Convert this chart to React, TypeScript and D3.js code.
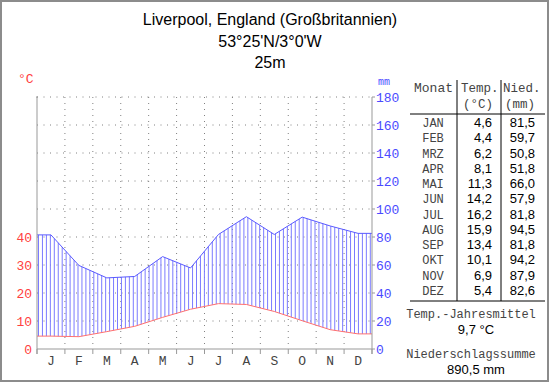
import { useMemo } from "react";
import * as d3 from "d3";

const months = ["J", "F", "M", "A", "M", "J", "J", "A", "S", "O", "N", "D"];
const monthNames = ["JAN", "FEB", "MRZ", "APR", "MAI", "JUN", "JUL", "AUG", "SEP", "OKT", "NOV", "DEZ"];
const temps = [4.6, 4.4, 6.2, 8.1, 11.3, 14.2, 16.2, 15.9, 13.4, 10.1, 6.9, 5.4];
const precip = [81.5, 59.7, 50.8, 51.8, 66.0, 57.9, 81.8, 94.5, 81.8, 94.2, 87.9, 82.6];
const tempTicks = [0, 10, 20, 30, 40];
const precipTicks = [0, 20, 40, 60, 80, 100, 120, 140, 160, 180];
const titleLines = ["Liverpool, England (Großbritannien)", "53°25'N/3°0'W", "25m"];
const meanTemp = "9,7 °C";
const totalPrecip = "890,5 mm";

const MONO = "'Liberation Mono', 'DejaVu Sans Mono', monospace";
const SANS = "'Liberation Sans', Arial, sans-serif";
const RED = "#ff4040";
const BLUE = "#4a4aff";
const GRID = "#808080";
const INK = "#444";

const fmt = (v: number) => d3.format(".1f")(v).replace(".", ",");

export default function App() {
  const x = d3.scaleLinear().domain([0, 12]).range([37, 372]);
  const yP = d3.scaleLinear().domain([0, 180]).range([349, 97]);
  const yT = d3.scaleLinear().domain([0, 90]).range([349, 97]);

  // points at month centres, held flat out to the plot edges
  const posT = useMemo(() => [0, ...temps.map((_, i) => i + 0.5), 12], []);
  const tExt = [temps[0], ...temps, temps[11]];
  const pExt = [precip[0], ...precip, precip[11]];

  const tLine = d3.line<number>().x((_, i) => x(posT[i])).y((d) => yT(d))(tExt) ?? "";
  const pLine = d3.line<number>().x((_, i) => x(posT[i])).y((d) => yP(d))(pExt) ?? "";

  const tInterp = d3.scaleLinear().domain(posT).range(tExt);
  const pInterp = d3.scaleLinear().domain(posT).range(pExt);
  const hatchX = d3.range(x(0) + 1.5, x(12), 3.95);

  const rowY = d3.scaleLinear().domain([0, 11]).range([127, 295]);

  return (
    <svg width={550} height={384} style={{ position: "absolute", left: 0, top: 0, background: "#fff" }}>
      <rect x={1} y={1} width={547} height={380} fill="#fff" stroke="#8c8c8c" strokeWidth={2} />

      {titleLines.map((t, i) => (
        <text key={i} x={270} y={25 + i * 21.5} textAnchor="middle" fontFamily={SANS} fontSize={16} fill="#000">
          {t}
        </text>
      ))}

      {/* grid */}
      {precipTicks.slice(1).map((v) => (
        <line key={"h" + v} x1={x(0)} x2={x(12)} y1={yP(v)} y2={yP(v)} stroke={GRID} strokeWidth={1} strokeDasharray="1 5.5" />
      ))}
      {d3.range(1, 12).map((m) => (
        <line key={"v" + m} x1={x(m)} x2={x(m)} y1={yP(180)} y2={yP(0)} stroke={GRID} strokeWidth={1} strokeDasharray="1 5" />
      ))}

      {/* humid hatching */}
      {hatchX.map((hx, i) => (
        <line key={"hx" + i} x1={hx} x2={hx} y1={yT(tInterp(x.invert(hx)))} y2={yP(pInterp(x.invert(hx)))} stroke="#7b7bff" strokeWidth={1} />
      ))}
      <path d={pLine} fill="none" stroke="#5a5aff" strokeWidth={1} />
      <path d={tLine} fill="none" stroke="#ff7070" strokeWidth={1} />

      {/* axes */}
      <line x1={x(0)} x2={x(0)} y1={yP(180)} y2={yP(0) + 5} stroke="#999" />
      <line x1={x(12)} x2={x(12)} y1={yP(180)} y2={yP(0) + 5} stroke="#999" />
      <line x1={x(0)} x2={x(12)} y1={yP(0)} y2={yP(0)} stroke="#999" />
      {d3.range(0, 13).map((m) => (
        <line key={"xt" + m} x1={x(m)} x2={x(m)} y1={yP(0)} y2={yP(0) + 5} stroke="#999" />
      ))}
      {precipTicks.map((v) => (
        <line key={"pt" + v} x1={x(12)} x2={x(12) + 3} y1={yP(v)} y2={yP(v)} stroke="#999" />
      ))}
      <line x1={x(0) - 1} x2={x(0) + 1} y1={yP(180)} y2={yP(180)} stroke="#999" />

      {months.map((m, i) => (
        <text key={"m" + i} x={x(i + 0.5)} y={365} textAnchor="middle" fontFamily={MONO} fontSize={13} fill={INK}>
          {m}
        </text>
      ))}
      {tempTicks.map((v) => (
        <text key={"tl" + v} x={32} y={yT(v) + 4.5} textAnchor="end" fontFamily={MONO} fontSize={13} fill={RED}>
          {v}
        </text>
      ))}
      {precipTicks.map((v) => (
        <text key={"pl" + v} x={376} y={yP(v) + 4.5} fontFamily={MONO} fontSize={13} fill={BLUE}>
          {v}
        </text>
      ))}
      <text x={18} y={83} fontFamily={MONO} fontSize={13} fill={RED}>°C</text>
      <text x={378} y={85} fontFamily={MONO} fontSize={10} fill={BLUE}>mm</text>

      {/* table */}
      <line x1={457} x2={457} y1={80} y2={301} stroke="#000" />
      <line x1={501} x2={501} y1={80} y2={301} stroke="#000" />
      <line x1={410} x2={545} y1={114} y2={114} stroke="#000" />
      <line x1={410} x2={545} y1={301} y2={301} stroke="#000" />
      <text x={414} y={92} fontFamily={MONO} fontSize={13} fill={INK}>Monat</text>
      <text x={461} y={92} fontFamily={MONO} fontSize={12.5} fill={INK}>Temp.</text>
      <text x={478} y={108} textAnchor="middle" fontFamily={MONO} fontSize={12.5} fill={INK}>(°C)</text>
      <text x={503} y={92} fontFamily={MONO} fontSize={12.5} fill={INK}>Nied.</text>
      <text x={520} y={108} textAnchor="middle" fontFamily={MONO} fontSize={12.5} fill={INK}>(mm)</text>
      {monthNames.map((m, i) => (
        <g key={"r" + i}>
          <text x={433} y={rowY(i)} textAnchor="middle" fontFamily={MONO} fontSize={12} fill={INK}>{m}</text>
          <text x={492} y={rowY(i)} textAnchor="end" fontFamily={SANS} fontSize={13} fill="#000">{fmt(temps[i])}</text>
          <text x={535} y={rowY(i)} textAnchor="end" fontFamily={SANS} fontSize={13} fill="#000">{fmt(precip[i])}</text>
        </g>
      ))}
      <text x={471} y={318} textAnchor="middle" fontFamily={MONO} fontSize={12} fill={INK}>Temp.-Jahresmittel</text>
      <text x={476} y={334} textAnchor="middle" fontFamily={SANS} fontSize={13} fill="#000">{meanTemp}</text>
      <text x={471} y={358} textAnchor="middle" fontFamily={MONO} fontSize={12} fill={INK}>Niederschlagssumme</text>
      <text x={476} y={374} textAnchor="middle" fontFamily={SANS} fontSize={13} fill="#000">{totalPrecip}</text>
    </svg>
  );
}
